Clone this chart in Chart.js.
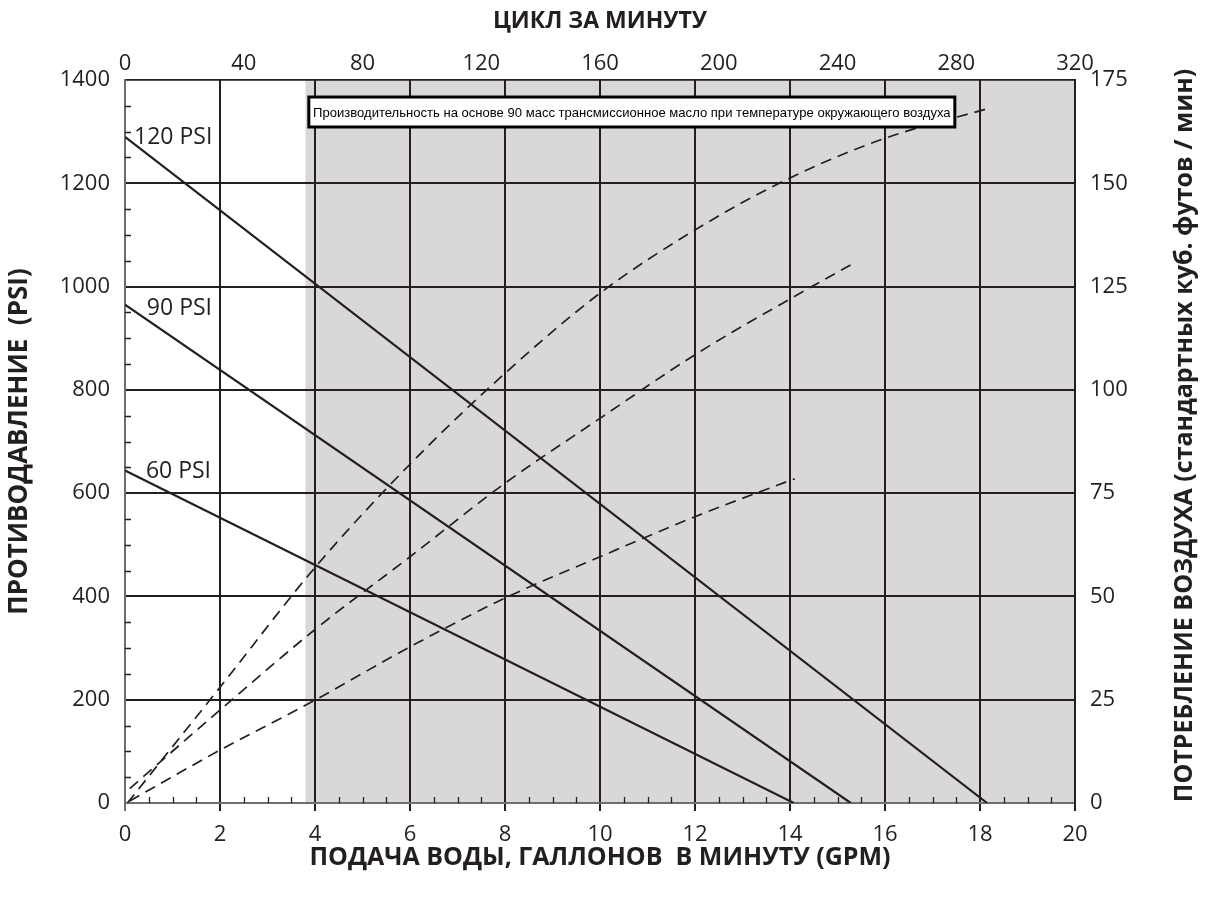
<!DOCTYPE html>
<html>
<head>
<meta charset="utf-8">
<script src="https://cdn.jsdelivr.net/npm/chart.js@4.4.1/dist/chart.umd.min.js"></script>
<style>
  body { margin: 0; background: #fff; }
  #chart { display: block; }
</style>
</head>
<body>
<canvas id="chart" width="1208" height="899"></canvas>
<script>
// pump curves: water flow (GPM) vs back pressure (PSI)
const gpm120 = [0, 18.15];
const psi120 = [1290, 0];
const gpm90 = [0, 15.28];
const psi90 = [965, 0];
const gpm60 = [0, 14.08];
const psi60 = [644, 0];

// air consumption (SCFM), right axis
const airGpmA = [0.05, 2, 4, 6, 8, 10, 12, 14, 16, 18.2];
const airA = [0, 28, 57, 82, 104, 123.4, 138.7, 151.3, 160.9, 168.2];
const airGpmB = [0.1, 2, 4, 6, 8, 10, 12, 14, 15.3];
const airB = [3.5, 22.5, 42, 59.6, 77.4, 93.1, 108.5, 122, 130.4];
const airGpmC = [0.1, 2, 4, 6, 8, 10, 12, 14.1];
const airC = [0.5, 12.8, 24.9, 37.8, 49.6, 59.6, 69.3, 78.5];

const curveNames = ["120 PSI", "90 PSI", "60 PSI"];
const noteText = "Производительность на основе 90 масс трансмиссионное масло при температуре окружающего воздуха";
const rightTitle = "ПОТРЕБЛЕНИЕ ВОЗДУХА (стандартных куб. футов / мин)";
const shadeFrom = 3.8; // GPM where grey zone starts

const ink = "#231f20";
const axisGrey = "#6d6e71";

function pts(xs, ys) {
  return xs.map((x, i) => ({ x: x, y: ys[i] }));
}

const solid = { borderColor: ink, borderWidth: 2.2, pointRadius: 0, fill: false, xAxisID: "x", yAxisID: "y" };
const dashed = { borderColor: ink, borderWidth: 1.7, borderDash: [11, 7], pointRadius: 0, fill: false,
  cubicInterpolationMode: "monotone", xAxisID: "x", yAxisID: "yAir" };

// grey background + minor ticks + labels
const decor = {
  id: "decor",
  beforeDraw(chart) {
    const { ctx, chartArea: a, scales } = chart;
    const x0 = scales.x.getPixelForValue(shadeFrom);
    ctx.save();
    ctx.fillStyle = "#d9d8d7";
    ctx.fillRect(x0, a.top, a.right - x0, a.bottom - a.top);
    ctx.restore();
  },
  beforeDatasetsDraw(chart) {
    const { ctx, chartArea: a, scales } = chart;
    ctx.save();
    ctx.strokeStyle = ink;
    ctx.lineWidth = 1.3;
    ctx.beginPath();
    for (let v = 0.5; v < 20; v += 0.5) {
      if (v % 2 === 0) continue;
      const px = Math.round(scales.x.getPixelForValue(v)) + 0.5;
      ctx.moveTo(px, a.bottom);
      ctx.lineTo(px, a.bottom - 6);
    }
    for (let v = 50; v < 1400; v += 50) {
      if (v % 200 === 0) continue;
      const py = Math.round(scales.y.getPixelForValue(v)) + 0.5;
      ctx.moveTo(a.left, py);
      ctx.lineTo(a.left + 6, py);
    }
    ctx.stroke();
    ctx.restore();
  },
  afterDatasetsDraw(chart) {
    const { ctx, scales } = chart;
    const sx = scales.x, sy = scales.y;
    ctx.save();
    // curve names
    ctx.fillStyle = ink;
    ctx.font = "23px 'Open Sans'";
    ctx.textBaseline = "alphabetic";
    const lx = [0.19, 0.46, 0.44];
    const ly = [1276, 945, 629];
    curveNames.forEach((t, i) => {
      ctx.fillText(t, sx.getPixelForValue(lx[i]), sy.getPixelForValue(ly[i]));
    });
    // note box
    const bx1 = sx.getPixelForValue(3.87), bx2 = sx.getPixelForValue(17.47);
    const by1 = sy.getPixelForValue(1367), by2 = sy.getPixelForValue(1309);
    ctx.fillStyle = "#fff";
    ctx.fillRect(bx1, by1, bx2 - bx1, by2 - by1);
    ctx.lineWidth = 3;
    ctx.strokeStyle = "#000";
    ctx.strokeRect(bx1, by1, bx2 - bx1, by2 - by1);
    let fs = 15;
    ctx.font = fs + "px 'Liberation Sans Narrow', 'Arial Narrow', sans-serif";
    const w = ctx.measureText(noteText).width;
    const target = bx2 - bx1 - 8;
    if (w > target) {
      fs = fs * target / w;
      ctx.font = fs + "px 'Liberation Sans Narrow', 'Arial Narrow', sans-serif";
    }
    ctx.fillStyle = "#000";
    ctx.textAlign = "center";
    ctx.textBaseline = "middle";
    ctx.fillText(noteText, (bx1 + bx2) / 2, (by1 + by2) / 2 + 1);
    ctx.restore();
  },
  afterDraw(chart) {
    // right axis title reads bottom-to-top like the left one
    const { ctx, chartArea: a } = chart;
    ctx.save();
    ctx.translate(chart.width - 23, (a.top + a.bottom) / 2 - 6);
    ctx.rotate(-Math.PI / 2);
    ctx.fillStyle = ink;
    ctx.font = "bold 25px 'Open Sans'";
    ctx.textAlign = "center";
    ctx.textBaseline = "middle";
    ctx.fillText(rightTitle, 0, 0);
    ctx.restore();
  }
};

const tickFont = { family: "'Open Sans'", size: 22 };
const plainTick = (v) => String(v);

new Chart(document.getElementById("chart"), {
  type: "line",
  data: {
    datasets: [
      Object.assign({ label: curveNames[0], data: pts(gpm120, psi120) }, solid),
      Object.assign({ label: curveNames[1], data: pts(gpm90, psi90) }, solid),
      Object.assign({ label: curveNames[2], data: pts(gpm60, psi60) }, solid),
      Object.assign({ label: "air 120", data: pts(airGpmA, airA) }, dashed),
      Object.assign({ label: "air 90", data: pts(airGpmB, airB) }, dashed),
      Object.assign({ label: "air 60", data: pts(airGpmC, airC) }, dashed),
    ],
  },
  options: {
    responsive: false,
    devicePixelRatio: 1,
    animation: false,
    layout: { padding: 0 },
    plugins: { legend: { display: false }, tooltip: { enabled: false } },
    scales: {
      x: {
        type: "linear",
        position: "bottom",
        min: 0,
        max: 20,
        ticks: { stepSize: 2, color: ink, font: tickFont, padding: 11, maxRotation: 0, callback: plainTick },
        grid: {
          color: (c) => (c.tick && c.tick.value === 0 ? axisGrey : ink),
          lineWidth: 2,
          drawTicks: true,
          tickLength: 8,
        },
        border: { color: axisGrey, width: 2 },
        title: {
          display: true,
          text: "ПОДАЧА ВОДЫ, ГАЛЛОНОВ  В МИНУТУ (GPM)",
          color: ink,
          font: { family: "'Open Sans'", size: 25, weight: "bold" },
          padding: { bottom: 26 },
        },
        afterFit(s) { s.height = 96; },
      },
      xTop: {
        type: "linear",
        position: "top",
        min: 0,
        max: 320,
        ticks: { stepSize: 40, color: ink, font: tickFont, padding: -5, maxRotation: 0, callback: plainTick },
        grid: { display: false },
        border: { color: ink, width: 1.5 },
        title: {
          display: true,
          text: "ЦИКЛ ЗА МИНУТУ",
          color: ink,
          font: { family: "'Open Sans'", size: 23, weight: "bold" },
          padding: { top: 8 },
        },
        afterFit(s) { s.height = 80; },
      },
      y: {
        type: "linear",
        position: "left",
        min: 0,
        max: 1400,
        ticks: { stepSize: 200, color: ink, font: tickFont, padding: 15, callback: plainTick },
        grid: {
          color: (c) => (c.tick && c.tick.value === 0 ? "rgba(0,0,0,0)" : ink),
          lineWidth: (c) => (c.tick && c.tick.value === 1400 ? 1.5 : 2),
          drawTicks: false,
        },
        border: { color: axisGrey, width: 2 },
        title: {
          display: true,
          text: "ПРОТИВОДАВЛЕНИЕ  (PSI)",
          color: ink,
          font: { family: "'Open Sans'", size: 26, weight: "bold" },
          padding: { top: 4 },
        },
        afterFit(s) { s.width = 125; },
      },
      yAir: {
        type: "linear",
        position: "right",
        min: 0,
        max: 175,
        ticks: { stepSize: 25, color: ink, font: tickFont, padding: 15, callback: plainTick },
        grid: { display: false, drawTicks: false },
        border: { color: ink, width: 1.5 },
        title: { display: false },
        afterFit(s) { s.width = 133; },
      },
    },
  },
  plugins: [decor],
});
</script>
</body>
</html>
